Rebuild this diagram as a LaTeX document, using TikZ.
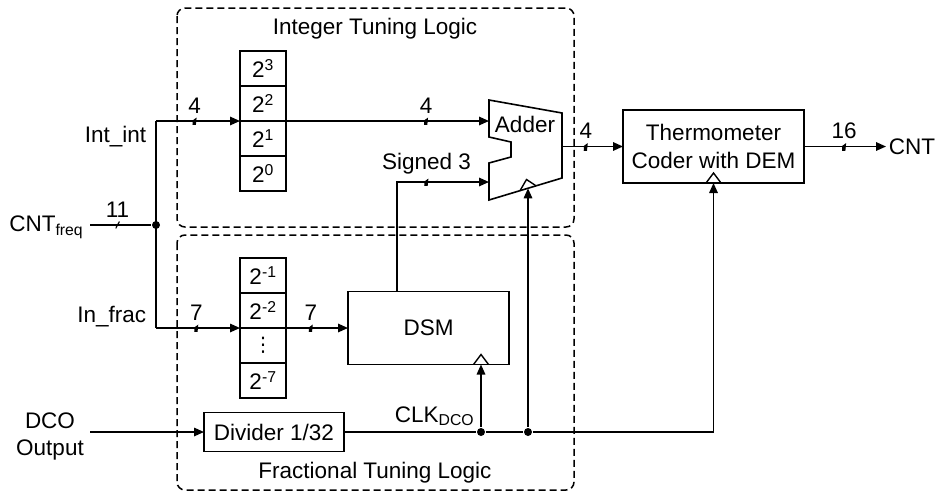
\documentclass[tikz,border=0pt]{standalone}
\usepackage{fontspec}
\setmainfont{Liberation Sans}
\newfontfamily\symfont{DejaVu Sans}
\usetikzlibrary{arrows.meta,positioning}

\begin{document}
\begin{tikzpicture}[
  x=1pt, y=-1pt,
  font=\fontsize{22.5}{27.5}\selectfont,
  line width=1.6pt,
  every node/.style={inner sep=2pt},
  blk/.style={rectangle, draw=black, line width=1.6pt, align=center, outer sep=0pt},
  cell/.style={blk, minimum width=46pt, minimum height=35pt},
  grp/.style={draw=black, dash pattern=on 7pt off 4pt, rounded corners=8pt, line width=1.5pt},
  arr/.style={-{Triangle[length=10pt,width=8.5pt]}},
  bus/.style={inner sep=0pt, minimum width=4pt, minimum height=7pt,
    path picture={\draw[line width=1.2pt] (path picture bounding box.south west)
      -- (path picture bounding box.north east);}},
  buslbl/.style={inner sep=2.5pt},
  dot/.style={circle, fill=black, inner sep=0pt, minimum size=8pt},
  clk/.style={line width=1.4pt},
]
\useasboundingbox (0,0) rectangle (937,496);
% --- dashed groups ---
\draw[grp] (177,8) rectangle (574,227);
\draw[grp] (177,235) rectangle (574,490);
\node[anchor=base] (itl) at (375,34) {Integer Tuning Logic};
\node[anchor=base] (ftl) at (375,478) {Fractional Tuning Logic};
% --- integer register ---
\node[cell] (i3) at (263,68.5) {2\textsuperscript{3}};
\node[cell, below=0pt of i3] (i2) {2\textsuperscript{2}};
\node[cell, below=0pt of i2] (i1) {2\textsuperscript{1}};
\node[cell, below=0pt of i1] (i0) {2\textsuperscript{0}};
% --- fractional register ---
\node[cell] (f1) at (263,275.5) {2\textsuperscript{-1}};
\node[cell, below=0pt of f1] (f2) {2\textsuperscript{-2}};
\node[cell, below=0pt of f2] (fd) {{\symfont\fontsize{20}{22}\selectfont ⋮}};
\node[cell, below=0pt of fd] (f7) {2\textsuperscript{-7}};
% --- blocks ---
\node[blk, minimum width=161pt, minimum height=73pt] (dsm) at (428.5,328) {DSM};
\node[blk, minimum width=140pt, minimum height=39pt] (div) at (274,432) {Divider 1/32};
\node[blk, minimum width=181pt, minimum height=73pt] (therm) at (713.5,146.5)
  {Thermometer\\Coder with DEM};
% --- adder ---
\draw[line width=1.6pt] (489,100) -- (562,113) -- (562,178) -- (489,200) -- (489,163)
  -- (511,157) -- (511,142) -- (489,137) -- cycle;
\node[anchor=base] (addlbl) at (525,132) {Adder};
\coordinate (adda) at (489,121);
\coordinate (addb) at (489,182);
\coordinate (addo) at (562,146.5);
\coordinate (addclk) at (528,188.3);
\draw[clk] (520,190.7) -- (526.5,179.5) -- (536,185.8);
% --- labels ---
\node[anchor=base east] (intint) at (149,142) {Int\_int};
\node[anchor=base east] (infrac) at (149,322) {In\_frac};
\node[anchor=base east] (cntf) at (86,231.5) {CNT\textsubscript{freq}};
\node[anchor=north, align=center] (dco) at (50,409.5) {DCO\\Output};
\node[anchor=base east] (clkdco) at (477,422) {CLK\textsubscript{DCO}};
\node[anchor=west] (cnt) at (886,146.5) {CNT};
% --- junctions ---
\node[dot] (j) at (156,225) {};
\node[dot] (d1) at (481,432) {};
\node[dot] (d2) at (528,432) {};
\coordinate (cntin) at (90,225);
\coordinate (dcoin) at (90,432);
\coordinate (jt) at (j |- i2.south west);
\coordinate (jb) at (j |- f2.south west);
\coordinate (dsmclk) at (d1 |- dsm.south);
\coordinate (sgn) at ([xshift=-31.5pt]dsm.north);
\coordinate (sgnc) at (sgn |- addb);
% --- flow ---
\draw (cntin) -- node[bus, pos=.45, label={[buslbl]above:11}] {} (j);
\draw (jt) -- (jb);
\draw[arr] (jt) -- node[bus, pos=.46, label={[buslbl]above:4}] {} (i2.south west);
\draw[arr] (jb) -- node[bus, pos=.48, label={[buslbl]above:7}] {} (f2.south west);
\draw[arr] (f2.south east) -- node[bus, pos=.40, label={[buslbl]above:7}] {} (dsm.west);
\draw[arr] (i2.south east) -- node[bus, pos=.69, label={[buslbl]above:4}] {} (adda);
\draw[arr] (sgn) -- (sgnc) -- node[bus, pos=.32, label={[buslbl]above:Signed 3}] {} (addb);
\draw[arr] (addo) -- node[bus, pos=.39, label={[buslbl]above:4}] {} (therm.west);
\draw[arr] (therm.east) -- node[bus, pos=.49, label={[buslbl]above:16}] {} (cnt.west);
\draw[arr] (dcoin) -- (div);
\draw (div) -- (d1) -- (d2);
\draw[arr] (d2) -| (therm.south);
\draw[arr] (d1) -- (dsmclk);
\draw[arr] (d2) -- (addclk);
% --- clock marks ---
\draw[clk] ([xshift=-7.5pt]therm.south) -- ([yshift=10pt]therm.south) -- ([xshift=7.5pt]therm.south);
\draw[clk] ([xshift=-7.5pt]dsmclk) -- ([yshift=10pt]dsmclk) -- ([xshift=7.5pt]dsmclk);
\end{tikzpicture}
\end{document}
